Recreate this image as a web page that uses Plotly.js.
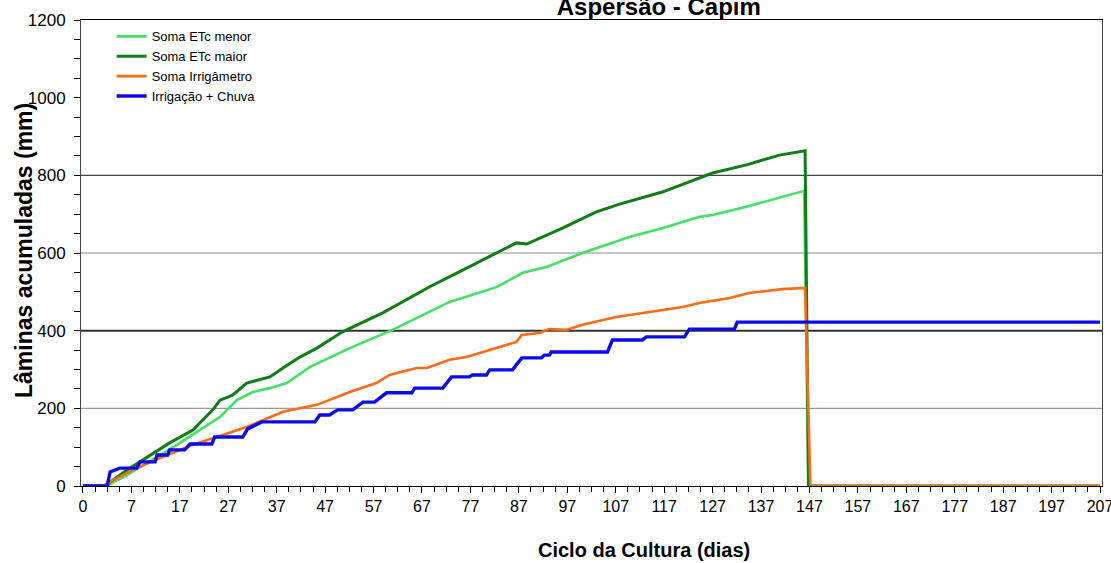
<!DOCTYPE html>
<html>
<head>
<meta charset="utf-8">
<script src="https://cdn.plot.ly/plotly-3.0.1.min.js"></script>
<style>html,body{margin:0;padding:0;background:#fff;}#chart{width:1111px;height:563px;}</style>
</head>
<body>
<div id="chart"></div>
<script>
// Category-axis positions (one unit per category) and accumulated depths (mm)
const tickLabels = ['0','7','17','27','37','47','57','67','77','87','97','107','117','127','137','147','157','167','177','187','197','207'];

const etcMenorX = [0, 4.9, 9.1, 14.4, 19.4, 24.1, 28.3, 31.8, 35.1, 38.6, 42.1, 46.8, 55.1, 63.9, 71.0, 75.7, 85.4, 90.8, 95.7, 103.1, 112.8, 119.6, 127.3, 130.0, 137.0, 143.8, 148.9, 149.8, 210];
const etcMenorY = [0, 0, 28, 67, 106, 144, 178, 221, 242, 252, 265, 306, 355, 402, 446, 474, 512, 549, 564, 600, 641, 664, 693, 698, 719, 742, 760, 0, 0];

const etcMaiorX = [0, 4.5, 9.1, 12.4, 17.9, 22.7, 26.8, 28.3, 30.9, 33.8, 38.6, 41.3, 44.8, 48.3, 53.6, 61.9, 68.9, 71.6, 78.4, 85.4, 89.5, 91.6, 99.0, 106.0, 110.8, 119.6, 127.3, 130.0, 137.0, 143.8, 149.1, 149.8, 210];
const etcMaiorY = [0, 0, 41, 67, 111, 144, 196, 221, 234, 265, 281, 304, 332, 355, 397, 446, 494, 513, 556, 600, 626, 623, 664, 706, 726, 757, 793, 806, 827, 852, 863, 0, 0];

const irrigametroX = [0, 4.1, 7.2, 11.1, 15.9, 22.7, 27.6, 33.8, 41.3, 48.3, 55.1, 60.6, 63.3, 68.9, 71.0, 75.7, 79.2, 82.5, 89.5, 90.6, 94.3, 96.3, 99.8, 103.1, 110.1, 117.0, 123.8, 127.3, 133.5, 137.6, 141.7, 144.4, 149.1, 150.2, 210];
const irrigametroY = [0, 0, 21, 46, 72, 106, 126, 152, 191, 209, 242, 265, 286, 304, 304, 325, 332, 345, 371, 389, 394, 404, 402, 415, 435, 448, 461, 471, 484, 497, 502, 507, 510, 0, 0];

const irrigChuvaX = [0, 5.0, 5.6, 7.6, 11.1, 11.8, 14.9, 15.3, 17.5, 17.9, 21.0, 22.1, 26.6, 27.2, 33.0, 34.0, 36.9, 47.9, 48.9, 50.9, 52.6, 55.7, 57.8, 60.2, 62.7, 67.9, 68.5, 74.3, 76.1, 79.8, 80.4, 83.3, 84.0, 88.7, 90.6, 94.7, 95.3, 96.3, 96.7, 108.3, 109.3, 115.5, 116.3, 124.2, 125.2, 134.5, 135.1, 210];
const irrigChuvaY = [0, 0, 36, 46, 46, 62, 62, 80, 80, 93, 93, 108, 108, 126, 126, 147, 165, 165, 183, 183, 196, 196, 216, 216, 240, 240, 252, 252, 281, 281, 286, 286, 299, 299, 330, 330, 337, 337, 345, 345, 376, 376, 384, 384, 404, 404, 422, 422];

const gridLevels = [200, 400, 600, 800];
const gridColors = ['#9a9a9a', '#333333', '#8a8a8a', '#444444'];
const gridWidths = [1.2, 2, 1.2, 1.4];

const FONT = 'Liberation Sans, Arial, sans-serif';

const traces = [
  {x: etcMenorX, y: etcMenorY, name: 'Soma ETc menor', mode: 'lines', line: {color: '#42e065', width: 2.6}},
  {x: etcMaiorX, y: etcMaiorY, name: 'Soma ETc maior', mode: 'lines', line: {color: '#0f7d14', width: 3}},
  {x: irrigametroX, y: irrigametroY, name: 'Soma Irrigâmetro', mode: 'lines', line: {color: '#ff6a14', width: 2.6}},
  {x: irrigChuvaX, y: irrigChuvaY, name: 'Irrigação + Chuva', mode: 'lines', line: {color: '#0a0ae6', width: 3.4}}
];

const shapes = gridLevels.map((v, i) => ({
  type: 'line', xref: 'paper', x0: 0, x1: 1, yref: 'y', y0: v, y1: v,
  line: {color: gridColors[i], width: gridWidths[i]}, layer: 'below'
}));

const layout = {
  width: 1111, height: 563,
  margin: {l: 81, r: 9, t: 20, b: 77},
  paper_bgcolor: '#ffffff', plot_bgcolor: '#ffffff',
  font: {family: FONT, color: '#000'},
  title: {text: 'Aspersão - Capim', font: {family: FONT, size: 24, weight: 'bold', color: '#000'},
          x: 0.593, xanchor: 'center', xref: 'container', yref: 'container', y: 0.973, yanchor: 'bottom'},
  showlegend: true,
  legend: {x: 0.03, y: 0.997, xanchor: 'left', yanchor: 'top', bgcolor: 'rgba(0,0,0,0)',
           font: {family: FONT, size: 13, color: '#000'}, tracegroupgap: 0},
  xaxis: {
    range: [-0.4, 210.4], tickmode: 'array',
    tickvals: tickLabels.map((_, i) => i * 10), ticktext: tickLabels,
    ticks: 'outside', ticklen: 6, tickcolor: '#000', tickwidth: 1,
    minor: {dtick: 2.5, tick0: 0, ticks: 'outside', ticklen: 5, tickcolor: '#000', showgrid: false},
    showline: true, linecolor: '#000', linewidth: 1, mirror: true,
    showgrid: false, zeroline: false, ticklabeloverflow: 'allow',
    tickfont: {family: 'Liberation Sans Narrow, Arial Narrow, ' + FONT, size: 16, color: '#000'}
  },
  yaxis: {
    range: [0, 1200], dtick: 200, tick0: 0,
    ticks: 'outside', ticklen: 6, tickcolor: '#000', tickwidth: 1,
    minor: {dtick: 50, ticks: 'outside', ticklen: 6, tickcolor: '#000', showgrid: false},
    showline: true, linecolor: '#444', linewidth: 1, mirror: true,
    showgrid: false, zeroline: false, ticklabelstandoff: 5,
    tickfont: {family: FONT, size: 17, color: '#000'}
  },
  shapes: shapes,
  annotations: [
    {text: 'Lâminas acumuladas (mm)', textangle: -90, xref: 'paper', yref: 'paper',
     x: -0.056, y: 0.506, xanchor: 'center', yanchor: 'middle', showarrow: false,
     font: {family: FONT, size: 23, weight: 'bold', color: '#000'}},
    {text: 'Ciclo da Cultura (dias)', xref: 'paper', yref: 'paper',
     x: 0.551, y: -0.137, xanchor: 'center', yanchor: 'middle', showarrow: false,
     font: {family: FONT, size: 20, weight: 'bold', color: '#000'}}
  ]
};

Plotly.newPlot('chart', traces, layout, {displayModeBar: false, staticPlot: true});
</script>
</body>
</html>
